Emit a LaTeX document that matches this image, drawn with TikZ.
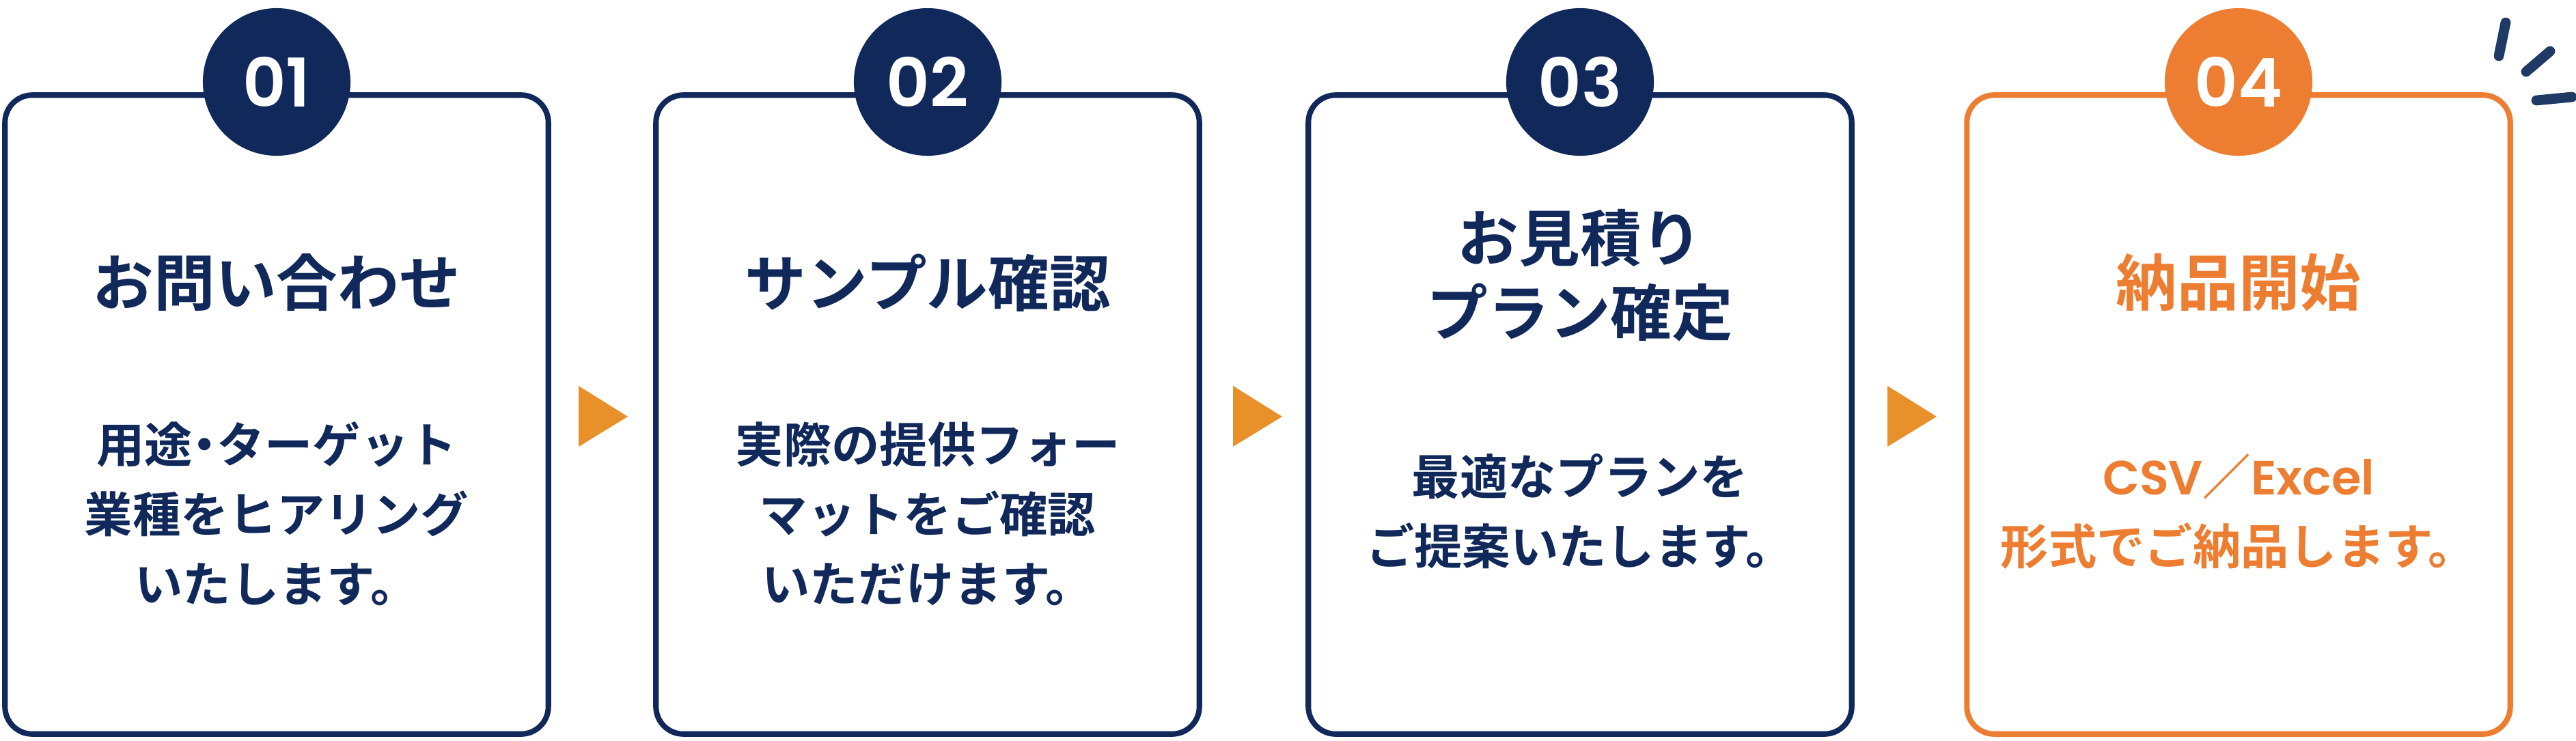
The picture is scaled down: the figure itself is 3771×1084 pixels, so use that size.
\documentclass[tikz,border=0pt]{standalone}
\usepackage{fontspec}
\setmainfont{Noto Sans CJK JP}[BoldFont={* Bold}]
\newfontfamily\latinfont{Poppins}[BoldFont={* SemiBold}]
\usetikzlibrary{positioning}
\definecolor{navy}{HTML}{10295A}
\definecolor{dashnavy}{HTML}{1F3A64}
\definecolor{accent}{HTML}{ED7D31}
\definecolor{tri}{HTML}{E8902A}
\tikzset{
  card/.style={draw=navy, line width=2.3pt, rounded corners=0.4cm, fill=white,
    minimum width=7.95cm, minimum height=9.35cm, inner sep=0pt},
  badge/.style={circle, fill=navy, minimum size=2.16cm, inner sep=0pt,
    text=white, font=\latinfont\fontsize{28}{30}\selectfont\bfseries},
  headline/.style={align=center, text=navy, font=\fontsize{25.5}{31}\selectfont\bfseries},
  bodytext/.style={align=center, text=navy, font=\fontsize{20}{29}\selectfont\bfseries},
}
\begin{document}
\begin{tikzpicture}[x=0.01cm, y=-0.01cm]
  \useasboundingbox (0,0) rectangle (3771,1084);
  % cards
  \node[card] (c1) at (405,607) {};
  \node[card] (c2) at (1358,607) {};
  \node[card] (c3) at (2313,607) {};
  \node[card, draw=accent] (c4) at (3277,607) {};
  % badges
  \node[badge] (n1) at (405,120) {01};
  \node[badge] (n2) at (1358,120) {02};
  \node[badge] (n3) at (2313,120) {03};
  \node[badge, fill=accent] (n4) at (3277,120) {04};
  % headings
  \node[headline] (h1) at (405,414) {お問い合わせ};
  \node[headline] (h2) at (1358,414) {サンプル確認};
  \node[headline] (h3) at (2313,403) {お見積り\\プラン確定};
  \node[headline, text=accent] (h4) at (3277,414) {納品開始};
  % body
  \node[bodytext] (b1) at (405,752) {用途\kern-0.25em・\kern-0.25emターゲット\\業種をヒアリング\\いたします。};
  \node[bodytext] (b2) at (1358,752) {実際の提供フォー\\マットをご確認\\いただけます。};
  \node[bodytext] (b3) at (2313,749) {最適なプランを\\ご提案いたします。};
  \node[bodytext, text=accent] (b4) at (3277,749) {{\latinfont\bfseries CSV}／{\latinfont\bfseries Excel}\\形式でご納品します。};
  % triangles
  \foreach \tx in {847,1805,2763}
    \fill[tri] (\tx,565) -- (\tx+72,610) -- (\tx,654) -- cycle;
  % sparkle
  \draw[dashnavy, line width=4.2pt, line cap=round]
    (3668,33) -- (3658,82)
    (3733,75) -- (3698,105)
    (3765,142) -- (3713,147);
\end{tikzpicture}
\end{document}
